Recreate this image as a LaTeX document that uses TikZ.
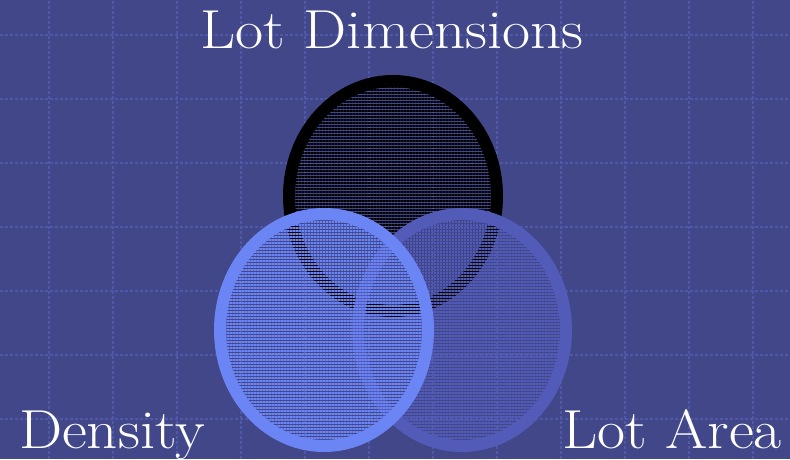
\documentclass[tikz,border=0pt]{standalone}
\usepackage{tikz}
\usetikzlibrary{patterns.meta}

\definecolor{slate}{RGB}{65,71,137}
\definecolor{gridblue}{RGB}{80,89,168}
\definecolor{skyring}{RGB}{107,133,245}
\definecolor{duskring}{RGB}{82,91,184}

\newcommand{\widetext}[1]{\scalebox{1.11}[1]{#1}}

\tikzset{
  gridline/.style={gridblue, line width=1.4pt, dash pattern=on 3pt off 2pt},
  ring/.style={line width=12pt},
  label/.style={text=white, inner sep=0pt, anchor=base, font=\fontsize{55}{62}\selectfont}
}

\begin{document}
\begin{tikzpicture}[x=1pt,y=1pt]
\def\rx{104}
\def\ry{115}

\useasboundingbox (0,0) rectangle (790,459);
\fill[slate] (0,0) rectangle (790,459);

% background grid
\draw[gridline, step=64, xshift=49, yshift=40] (-49,-40) grid (741,419);

% Lot Dimensions
\fill[pattern={Lines[angle=0, distance=3pt, line width=1.4pt]}, pattern color=black]
  (393,263) ellipse [x radius=\rx, y radius=\ry];
\draw[ring, black] (393,263) ellipse [x radius=\rx, y radius=\ry];

% Lot Area
\fill[pattern={Lines[angle=0, distance=3pt, line width=1.4pt]}, pattern color=duskring]
  (462,129) ellipse [x radius=\rx, y radius=116];
\draw[ring, duskring] (462,129) ellipse [x radius=\rx, y radius=116];

% Density
\fill[pattern={Lines[angle=0, distance=3pt, line width=1.2pt]}, pattern color=skyring]
  (324,129) ellipse [x radius=\rx, y radius=116];
\draw[ring, skyring] (324,129) ellipse [x radius=\rx, y radius=116];

\node[label] (dims) at (392,410) {\widetext{Lot Dimensions}};
\node[label] (dens) at (112,11) {\widetext{Density}};
\node[label] (area) at (672,11) {\widetext{Lot Area}};
\end{tikzpicture}
\end{document}
